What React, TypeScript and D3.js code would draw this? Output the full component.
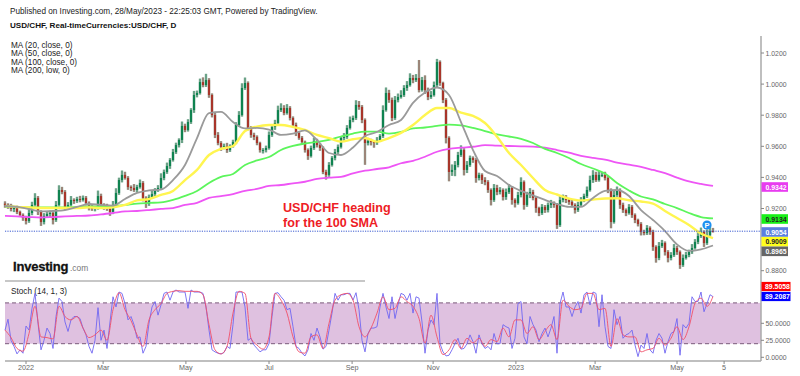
import React from 'react';
import * as d3 from 'd3';

const W = 800, H = 376;

// daily-ish closes in pips (1e-4)
const closes = [
9223,9210,9197,9203,9178,9158,9139,9120,9171,9223,9268,9178,9113,9152,9165,9171,9126,9223,9319,9306,
9210,9223,9255,9248,9261,9255,9268,9235,9210,9197,9203,9280,9223,9210,9197,9178,9223,9300,9383,9416,
9396,9338,9332,9319,9338,9364,9268,9229,9274,9293,9319,9332,9396,9435,9473,9512,9563,9608,9641,9731,
9705,9756,9833,9930,9943,10013,9994,10026,9930,9801,9673,9621,9596,9602,9576,9602,9628,9737,9801,9975,
10007,9718,9673,9660,9621,9576,9576,9589,9673,9724,9750,9833,9846,9814,9846,9782,9737,9686,9654,9628,
9576,9538,9589,9634,9608,9589,9435,9416,9480,9525,9563,9596,9654,9660,9718,9769,9782,9866,9853,9769,
9621,9634,9628,9621,9641,9666,9833,9943,9898,9782,9898,9917,9930,9975,9994,10039,10026,10039,9962,10026,
9962,9917,9930,9994,10142,10007,9898,9654,9435,9448,9480,9544,9576,9448,9480,9525,9512,9396,9416,9383,
9370,9319,9255,9332,9306,9319,9274,9306,9332,9255,9235,9287,9370,9223,9287,9306,9268,9203,9171,9210,
9190,9223,9235,9223,9094,9255,9274,9255,9242,9223,9190,9223,9255,9280,9319,9383,9416,9383,9416,9416,
9396,9319,9113,9287,9319,9223,9190,9171,9210,9158,9126,9100,9049,9042,9075,9049,8953,8882,8959,8978,
8920,8882,8901,8946,8920,8837,8882,8901,8920,8946,8985,9023,9049,8978,9030,9055,9054];

const upperWicks = [
15,10,20,12,15,8,10,14,25,20,30,12,10,18,12,15,10,25,30,20,
12,18,25,10,14,20,15,12,10,18,12,35,15,10,20,12,25,30,15,28,
20,12,10,25,14,22,12,10,15,20,12,18,30,15,22,12,20,15,10,28,
14,18,12,26,15,22,30,40,12,10,14,18,12,15,20,10,14,18,25,30,
35,10,12,14,10,8,12,15,22,14,20,28,30,18,25,12,10,15,10,12,
8,10,15,22,14,12,10,14,18,12,20,15,10,25,18,22,15,30,25,12,
10,20,14,10,18,12,30,35,20,15,25,22,30,18,25,30,20,25,116,20,
30,15,25,22,20,10,8,12,10,35,25,20,30,12,25,15,10,12,14,10,
18,12,10,25,20,18,10,22,25,12,10,20,30,10,20,25,14,10,8,18,
12,15,20,10,12,25,15,12,10,14,10,20,18,15,22,28,30,20,25,18,
20,12,10,30,22,10,14,10,18,12,10,8,12,14,18,10,14,10,25,20,
10,12,18,25,14,10,22,20,15,25,18,30,28,10,35,30,20];

const lowerWicks = [
18,12,15,20,14,10,18,22,12,14,10,20,25,15,12,20,28,12,10,14,
20,15,10,18,12,15,10,14,22,12,15,10,20,18,12,25,14,10,12,15,
10,18,20,12,15,10,22,25,12,10,15,12,10,14,12,18,10,12,15,20,
14,10,12,18,15,10,14,12,18,15,20,14,25,15,18,12,10,14,12,10,
12,15,18,20,14,16,22,15,10,12,18,10,12,14,10,15,18,20,12,14,
16,25,10,12,15,18,14,30,12,10,15,12,10,18,12,10,14,12,18,20,
140,15,22,30,12,10,12,10,18,20,12,15,10,12,18,10,20,12,15,10,
25,20,12,10,15,18,20,35,60,25,40,15,12,35,20,12,18,30,15,25,
20,18,35,12,20,15,22,18,12,30,28,10,15,30,12,20,15,30,20,12,
18,15,20,18,25,12,15,20,18,15,22,12,10,14,12,10,18,12,10,14,
15,20,40,10,12,25,18,20,10,18,20,15,22,14,12,18,25,30,14,12,
22,28,15,12,18,25,12,10,14,12,10,14,12,25,12,10,8];

// moving averages read every fourth bar, in pips
const maStep = 4;
const ma20 = [
9216,9210,9197,9181,9184,9190,9210,9229,9223,9219,9261,9300,9316,9322,9383,9480,9653,9814,9821,9756,9715,9718,
9708,9673,9682,9702,9641,9557,9544,9592,9666,9692,9737,9769,9879,9946,9978,9930,9756,9576,9441,9409,9351,9313,
9284,9255,9229,9210,9210,9268,9313,9319,9280,9190,9126,9055,8969,8927,8937,8962];
const ma50 = [
9216,9210,9207,9203,9203,9203,9203,9207,9203,9207,9223,9252,9261,9287,9313,9383,9448,9544,9583,9602,9698,9727,
9737,9737,9724,9705,9673,9653,9630,9645,9653,9630,9653,9686,9737,9801,9846,9846,9816,9795,9750,9662,9557,9480,
9396,9319,9290,9264,9252,9258,9264,9266,9253,9245,9232,9184,9139,9094,9039,9010];
const ma100 = [
9213,9210,9207,9207,9207,9207,9210,9213,9213,9216,9223,9232,9236,9239,9255,9281,9313,9364,9403,9422,9480,9509,
9531,9576,9602,9618,9628,9641,9663,9682,9695,9695,9682,9692,9715,9721,9731,9740,9734,9718,9698,9676,9663,9647,
9621,9583,9557,9525,9486,9457,9425,9364,9316,9277,9258,9229,9203,9171,9145,9136];
const ma200 = [
9152,9149,9145,9142,9145,9149,9152,9155,9162,9171,9181,9184,9190,9197,9203,9223,9236,9268,9280,9293,9313,9326,
9345,9351,9362,9372,9390,9398,9403,9426,9443,9454,9465,9491,9507,9533,9565,9583,9591,9597,9607,9604,9602,9600,
9598,9591,9576,9559,9538,9525,9515,9495,9482,9467,9448,9428,9399,9374,9358,9345];

// stochastic %K, every bar
const stochK = [
40,56,25,16,5,11,6,46,40,72,94,50,11,25,43,35,13,60,87,82,52,38,55,60,60,57,43,33,16,6,25,73,25,40,13,52,89,74,96,94,
79,55,60,48,28,30,6,16,50,74,82,62,77,94,96,84,96,99,96,96,96,72,99,96,96,96,94,74,40,11,8,6,5,7,16,13,48,96,96,96,
74,25,28,18,13,8,11,
11,20,60,94,95,89,84,70,72,45,16,13,6,2,11,35,25,43,30,12,16,40,65,94,84,92,92,94,94,84,95,70,25,8,35,43,43,45,74,94,
74,57,89,57,77,94,92,84,94,65,89,87,52,6,40,55,48,94,20,8,2,3,11,20,28,12,13,20,33,23,6,33,20,13,16,11,35,20,20,48,
45,43,13,28,79,82,30,20,60,
48,40,23,35,43,30,43,60,6,79,96,74,74,60,74,82,65,92,96,77,96,94,45,92,45,16,13,70,48,60,28,33,35,40,18,1,18,13,35,11,
6,25,35,28,6,23,35,38,57,3,48,43,50,89,82,82,96,67,79,92,89.2];

// stochastic %D, every second bar
const stochD = [
40,29,13,9,35,75,30,29,27,75,60,55,60,43,29,33,40,25,70,95,70,54,33,16,55,70,79,94,97,98,97,97,97,92,48,11,5,16,65,97,94,28,18,12,
30,94,84,65,30,8,6,30,33,13,50,84,92,94,84,45,30,43,65,89,70,72,89,82,75,57,21,62,30,4,11,26,13,28,21,28,16,26,23,43,30,55,55,35,
45,26,38,48,26,84,75,70,72,94,94,70,72,16,57,33,30,30,8,11,13,28,18,28,45,26,45,79,87,75,89.5];

const axisPrices = [1.02, 1.0, 0.98, 0.96, 0.94, 0.92, 0.88];
const stochTicks = [50, 25, 0];
const timeLabels = ['2022', 'Mar', 'May', 'Jul', 'Sep', 'Nov', '2023', 'Mar', 'May', '5'];
const timeBars = [7, 32.7, 60.3, 88, 115.7, 142.7, 170.3, 196.7, 224, 239.7];
const maLegend = ['MA (20, close, 0)', 'MA (50, close, 0)', 'MA (100, close, 0)', 'MA (200, low, 0)'];
const priceTags = [
  { v: '0.9342', bg: '#e83cf0', fg: '#fff', cy: 187 },
  { v: '0.9134', bg: '#19f019', fg: '#222', cy: 219 },
  { v: '0.9054', bg: '#5b7fe0', fg: '#fff', cy: 232 },
  { v: '0.9009', bg: '#ffff1e', fg: '#222', cy: 241.7 },
  { v: '0.8965', bg: '#666666', fg: '#fff', cy: 251.3 },
];
const stochTags = [
  { v: '89.5058', bg: '#ff0000', fg: '#fff', cy: 286.5 },
  { v: '89.2087', bg: '#0000ff', fg: '#fff', cy: 296.5 },
];

const x = d3.scaleLinear().domain([0, 236]).range([5, 713]);
const y = d3.scaleLinear().domain([0.88, 1.02]).range([270.7, 53]);
const ys = d3.scaleLinear().domain([0, 100]).range([357.3, 289.3]);

const pip = (p: number) => y(p / 10000);
const maPath = d3.line<number>().x((_, i) => x(i * maStep)).y((d) => pip(d)).curve(d3.curveMonotoneX);
const kPath = d3.line<number>().x((_, i) => x(i)).y((d) => ys(d));
const dPath = d3.line<number>().x((_, i) => x(i * 2)).y((d) => ys(d)).curve(d3.curveMonotoneX);

const font = 'Arial, "Liberation Sans", sans-serif';
const small = 6.9;

export default function App() {
  const last = closes[closes.length - 1];
  return (
    <svg width={W} height={H} style={{ position: 'fixed', left: 0, top: 0, background: '#fff' }} fontFamily={font}>
      <text x={10} y={13.5} fontSize={8.2} fill="#222">Published on Investing.com, 28/May/2023 - 22:25:03 GMT, Powered by TradingView.</text>
      <text x={10} y={28} fontSize={8.1} fontWeight="bold" fill="#111">USD/CHF, Real-timeCurrencies:USD/CHF, D</text>
      {maLegend.map((t, i) => (
        <text key={t} x={11} y={48 + i * 8.4} fontSize={8.2} fill="#222">{t}</text>
      ))}

      {/* candles */}
      {closes.map((c, i) => {
        const o = i === 0 ? c + 8 : closes[i - 1];
        const hi = Math.max(o, c) + upperWicks[i];
        const lo = Math.min(o, c) - lowerWicks[i];
        const up = c >= o;
        return (
          <g key={i}>
            <line x1={x(i)} x2={x(i)} y1={pip(hi)} y2={pip(lo)} stroke="#a9c4b6" strokeWidth={2.6} />
            <line x1={x(i)} x2={x(i)} y1={pip(hi)} y2={pip(lo)} stroke={up ? '#1f7a50' : '#8a3a30'} strokeWidth={0.9} />
          </g>
        );
      })}
      {closes.map((c, i) => {
        const o = i === 0 ? c + 8 : closes[i - 1];
        const up = c >= o;
        const top = pip(Math.max(o, c));
        return (
          <rect key={i} x={x(i) - 1.1} y={top} width={2.2} height={Math.max(1, pip(Math.min(o, c)) - top)}
            fill={up ? '#0f8350' : '#a8352a'} />
        );
      })}

      {/* moving averages */}
      <path d={maPath(ma200)!} fill="none" stroke="#ee55f5" strokeWidth={1.8} />
      <path d={maPath(ma100)!} fill="none" stroke="#5cf55c" strokeWidth={1.8} />
      <path d={maPath(ma50)!} fill="none" stroke="#fff550" strokeWidth={2.4} />
      <path d={maPath(ma20)!} fill="none" stroke="#9a9a9a" strokeWidth={1.8} />

      {/* last price */}
      <line x1={5} x2={761} y1={y(last / 10000)} y2={y(last / 10000)} stroke="#3b5bd0" strokeWidth={1} strokeDasharray="1.2 1.2" />
      <circle cx={707} cy={225} r={4.6} fill="#1e90f0" />
      <text x={707} y={228} fontSize={7.5} fontWeight="bold" fill="#fff" textAnchor="middle">P</text>

      <text x={283} y={212} fontSize={12.6} fontWeight="bold" fill="#ee1c25">USD/CHF heading</text>
      <text x={283} y={227} fontSize={12.6} fontWeight="bold" fill="#ee1c25">for the 100 SMA</text>

      {/* logo */}
      <text x={13} y={271} fontSize={13} fontWeight="bold" fill="#111" stroke="#111" strokeWidth={0.3} letterSpacing={-0.2}>Investing</text>
      <text x={70} y={271} fontSize={8.4} fill="#777">.com</text>
      <line x1={5} x2={365} y1={281} y2={281} stroke="#b5b5b5" strokeWidth={1.5} />

      {/* stochastic panel */}
      <text x={11} y={293.5} fontSize={8.2} fill="#222">Stoch (14, 1, 3)</text>
      <rect x={5} y={ys(80)} width={756} height={ys(20) - ys(80)} fill="#dfc1e0" />
      {[80, 20].map((v) => (
        <line key={v} x1={5} x2={761} y1={ys(v)} y2={ys(v)} stroke="#7a5a7a" strokeWidth={1} strokeDasharray="4 3" />
      ))}
      <path d={kPath(stochK)!} fill="none" stroke="#7066f2" strokeWidth={0.9} />
      <path d={dPath(stochD)!} fill="none" stroke="#f0506a" strokeWidth={0.9} />

      {/* axes */}
      <line x1={761} x2={761} y1={36} y2={361} stroke="#aaa" strokeWidth={1.5} />
      <line x1={5} x2={761} y1={361} y2={361} stroke="#aaa" strokeWidth={1.5} />
      {axisPrices.map((p) => (
        <g key={p}>
          <line x1={761} x2={764} y1={y(p)} y2={y(p)} stroke="#888" />
          <text x={765.5} y={y(p) + 2.5} fontSize={small} fill="#666">{p.toFixed(4)}</text>
        </g>
      ))}
      {stochTicks.map((v) => (
        <g key={v}>
          <line x1={761} x2={764} y1={ys(v)} y2={ys(v)} stroke="#888" />
          <text x={765.5} y={ys(v) + 2.5} fontSize={small} fill="#666">{v.toFixed(4)}</text>
        </g>
      ))}
      {timeLabels.map((t, i) => (
        <g key={i}>
          <line x1={x(timeBars[i])} x2={x(timeBars[i])} y1={361} y2={364} stroke="#888" />
          <text x={x(timeBars[i])} y={370} fontSize={7.2} fill="#666" textAnchor="middle">{t}</text>
        </g>
      ))}

      {/* tags */}
      {priceTags.map((t) => (
        <g key={t.v}>
          <rect x={761.5} y={t.cy - 4.8} width={26.5} height={9.6} fill={t.bg} />
          <text x={765.5} y={t.cy + 2.5} fontSize={small} fontWeight="bold" fill={t.fg}>{t.v}</text>
        </g>
      ))}
      {stochTags.map((t) => (
        <g key={t.v}>
          <rect x={761.5} y={t.cy - 4.6} width={29} height={9.2} fill={t.bg} />
          <text x={765} y={t.cy + 2.5} fontSize={small} fontWeight="bold" fill={t.fg}>{t.v}</text>
        </g>
      ))}
    </svg>
  );
}
